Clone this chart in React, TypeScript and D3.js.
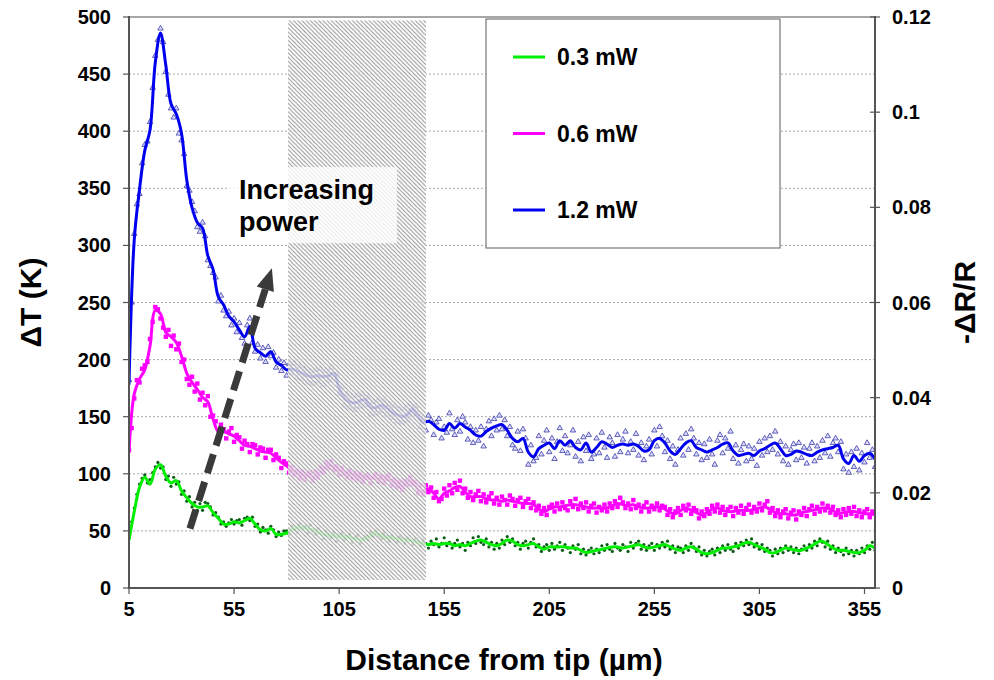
import React from 'react';
import * as d3 from 'd3';

const W = 994;
const H = 680;

const xTicks = [5, 55, 105, 155, 205, 255, 305, 355];
const yTicks = [0, 50, 100, 150, 200, 250, 300, 350, 400, 450, 500];
const yRightTicks = [0, 0.02, 0.04, 0.06, 0.08, 0.1, 0.12];
const yRightLabels = ['0', '0.02', '0.04', '0.06', '0.08', '0.1', '0.12'];
const seriesNames = ['0.3 mW', '0.6 mW', '1.2 mW'];

// smoothed curves: distance = 5 + 2.5 * i (µm)
const LINE_X0 = 5;
const LINE_STEP = 2.5;
const greenLine = [42,67,88,97,91,104,108,98,92,94,85,79,74,71,71,72,66,61,56,56,58,57,59,61,56,51,50,52,47,47,48,51,53,53,52,51,49,47,46,46,45,45,44,43,42,43,46,48,46,44,44,43,42,42,41,40,39,38,39,38,39,39,37,38,37,39,41,42,40,38,37,39,42,41,38,37,38,39,36,34,36,36,36,36,35,35,33,31,32,33,34,35,36,36,35,36,37,38,36,35,36,37,38,36,34,33,35,36,34,31,30,31,33,35,35,36,37,39,40,38,36,34,31,31,33,35,34,33,33,35,37,40,41,38,35,33,33,32,31,31,33,37,35];
const magentaLine = [118,170,183,191,212,243,240,224,220,215,203,188,180,174,167,163,148,137,137,135,133,129,125,124,122,120,119,118,114,110,107,103,101,99,98,97,100,104,108,106,103,102,100,99,97,96,96,96,96,95,94,91,89,93,94,86,85,87,83,78,83,85,88,89,84,80,80,80,78,77,77,76,77,76,75,74,74,73,69,67,69,71,71,72,73,73,72,71,70,70,70,70,72,74,73,72,73,71,70,70,71,71,69,66,65,68,70,68,66,64,66,69,70,68,67,67,68,68,68,69,70,71,69,66,65,65,64,64,66,67,68,69,70,70,68,65,66,67,67,66,65,65,64];
const blueLine = [178,305,349,383,401,460,486,458,424,415,398,357,333,320,315,291,279,255,248,238,233,226,220,229,210,206,203,207,198,195,191,192,190,188,186,185,186,185,186,188,175,166,163,162,164,165,158,158,160,158,154,152,150,152,157,150,145,146,143,139,138,144,140,144,141,138,134,133,137,140,142,143,138,131,128,131,119,115,122,125,127,122,129,125,129,123,121,127,119,123,128,126,123,125,126,125,126,124,120,121,129,131,127,120,117,122,127,129,123,121,119,121,123,126,127,120,116,117,118,116,120,122,125,127,122,116,117,120,119,117,116,119,121,122,123,125,113,109,116,111,116,118,113];

// measured points: distance = 5 + 1.25 * j (µm)
const PT_X0 = 5;
const PT_STEP = 1.25;
const greenPts = [
  44,58,70,82,91,96,99,92,95,101,106,110,105,106,95,98,89,97,91,93,82,85,76,80,71,75,68,74,68,75,
  74,71,64,66,62,56,58,54,57,60,56,59,60,55,61,62,59,62,54,56,49,53,51,48,54,51,45,49,46,50,
  50,47,54,51,49,56,52,54,48,55,50,47,52,49,43,50,47,44,49,41,46,48,42,45,47,40,44,46,39,43,
  45,42,49,45,50,46,43,48,45,41,46,43,40,45,43,39,44,42,38,43,41,37,42,39,35,41,38,43,36,39,
  44,37,40,35,39,42,36,39,33,40,37,44,39,45,40,38,43,36,40,34,39,35,42,38,45,40,43,37,40,34,
  39,41,35,40,43,36,38,32,36,38,33,39,34,37,40,33,38,35,31,37,34,38,30,34,29,33,35,30,34,31,
  37,33,38,34,32,39,35,33,38,36,32,40,35,39,41,34,38,33,37,39,33,38,35,40,36,41,34,37,31,36,
  35,31,37,33,39,36,32,36,29,33,28,32,34,29,35,31,37,33,38,34,32,39,35,40,37,42,38,43,36,39,
  34,38,32,35,33,28,34,30,35,31,37,33,36,31,35,30,34,37,33,38,35,41,37,43,40,36,41,34,37,31,
  35,32,29,35,30,33,28,33,30,35,31,37,34,40,33
];
const magentaPts = [
  121,140,166,182,180,192,195,198,218,233,246,244,236,228,220,226,212,221,209,214,198,200,183,178,185,172,179,165,171,160,
  168,150,151,146,133,143,139,131,137,140,128,134,132,122,129,126,119,126,125,117,123,122,114,121,121,112,117,114,105,111,
  109,101,106,99,103,96,102,95,100,101,94,102,97,106,101,110,105,111,103,107,99,105,100,97,103,96,101,95,100,93,
  98,99,92,97,100,93,98,92,97,99,90,95,88,93,86,94,90,97,91,93,83,90,82,90,84,88,79,84,76,78,
  87,81,90,83,92,86,94,83,87,79,84,77,82,85,76,82,75,80,83,74,79,73,80,77,73,81,78,72,77,79,
  71,76,78,70,75,68,72,65,70,64,71,73,67,74,69,75,70,68,76,71,78,69,74,70,75,67,72,74,66,71,
  68,73,67,74,70,76,71,79,75,70,74,69,77,70,73,67,72,75,67,72,69,74,68,72,71,64,69,62,67,70,
  64,72,68,73,65,70,68,61,67,63,69,65,72,67,73,66,71,64,69,71,63,70,66,72,65,70,73,66,71,67,
  74,68,73,76,66,70,63,68,62,67,69,61,66,68,60,67,64,70,63,69,72,65,71,67,74,68,72,66,71,64,
  68,62,69,64,70,65,71,63,68,62,67,69,62,67,66
];
const bluePts = [
  182,250,310,336,345,372,388,391,408,438,466,480,490,478,452,432,420,412,420,398,392,380,352,348,338,330,316,312,320,308,
  287,282,276,272,251,256,243,238,242,230,236,224,232,219,214,230,236,215,207,213,201,210,198,211,203,206,193,200,190,197,
  186,196,188,197,184,194,183,192,180,190,179,191,181,192,178,190,182,193,184,187,170,176,160,170,158,168,156,169,159,170,
  160,167,152,163,153,165,155,164,152,161,149,159,146,157,145,157,147,161,152,159,153,141,149,138,151,147,134,145,148,131,
  141,136,153,139,134,147,137,150,145,130,141,127,138,129,141,124,139,146,133,148,138,151,139,147,133,141,125,122,137,120,
  139,131,108,125,111,114,133,117,129,138,119,131,113,128,140,120,133,118,125,138,115,128,111,132,120,134,113,117,131,118,
  136,123,114,132,127,115,134,119,130,137,118,128,121,135,116,127,112,124,130,117,138,124,141,133,119,129,113,124,108,121,
  131,116,135,121,139,131,117,127,112,126,114,130,117,108,129,134,118,131,122,137,113,125,109,121,126,111,124,113,122,107,
  128,116,131,119,133,121,137,117,128,111,124,108,121,126,112,127,114,123,109,122,127,111,124,114,129,118,133,115,127,131,
  119,128,104,117,101,119,106,122,103,118,110,127,114,121,106
];

// shaded (excluded) distance range and annotation anchors, in data units
const hatchX = [80.7, 146.3];
const hatchY = [7, 497];
const noteBoxX = [52.1, 132.5];
const noteBoxY = [302, 368.6];
const arrowFrom = [34, 52];
const arrowTo = [73, 280];

const FONT = '"Liberation Sans", Arial, Helvetica, sans-serif';

export default function App() {
  const x = d3.scaleLinear().domain([5, 360]).range([129, 875]);
  const y = d3.scaleLinear().domain([0, 500]).range([588, 17]);
  const yR = d3.scaleLinear().domain([0, 0.12]).range([588, 17]);

  const lineGen = d3
    .line<number>()
    .x((_, i) => x(LINE_X0 + i * LINE_STEP))
    .y((d) => y(d))
    .curve(d3.curveCatmullRom.alpha(0.5));

  const ptX = (j: number) => x(PT_X0 + j * PT_STEP);
  const tri = d3.symbol().type(d3.symbolTriangle).size(13)() as string;

  const [x0, x1] = [x(5), x(360)];
  const [yb, yt] = [y(0), y(500)];

  const hx0 = x(hatchX[0]);
  const hx1 = x(hatchX[1]);
  const hy0 = y(hatchY[1]);
  const hy1 = y(hatchY[0]);

  const bx0 = x(noteBoxX[0]);
  const bx1 = x(noteBoxX[1]);
  const by0 = y(noteBoxY[1]);
  const by1 = y(noteBoxY[0]);

  const ax0 = x(arrowFrom[0]);
  const ay0 = y(arrowFrom[1]);
  const ax1 = x(arrowTo[0]);
  const ay1 = y(arrowTo[1]);
  const ang = Math.atan2(ay1 - ay0, ax1 - ax0);
  const headLen = 22;
  const headW = 9;
  const bxh = ax1 - headLen * Math.cos(ang);
  const byh = ay1 - headLen * Math.sin(ang);
  const px = -Math.sin(ang);
  const py = Math.cos(ang);
  const headPath = `M${ax1},${ay1} L${bxh + headW * px},${byh + headW * py} L${bxh - headW * px},${byh - headW * py} Z`;

  const legendColors = ['#00ee00', '#ff00ff', '#0000ee'];

  return (
    <svg
      width={W}
      height={H}
      style={{ position: 'absolute', left: 0, top: 0, background: '#fff' }}
      fontFamily={FONT}
    >
      <defs>
        <pattern id="hatch" patternUnits="userSpaceOnUse" width="4.2" height="4.2">
          <path d="M-1,-1 L5.2,5.2 M-1,3.2 L1,5.2 M3.2,-1 L5.2,1" stroke="#8e8e8e" strokeWidth="1" />
        </pattern>
        <clipPath id="plotClip">
          <rect x={x0} y={yt} width={x1 - x0} height={yb - yt} />
        </clipPath>
      </defs>
      <rect x={0} y={0} width={W} height={H} fill="#fff" />

      {/* gridlines */}
      {yTicks.slice(1, -1).map((t) => (
        <line key={'g' + t} x1={x0} x2={x1} y1={y(t)} y2={y(t)} stroke="#a8a8a8" strokeWidth={1} strokeDasharray="2,2" />
      ))}

      <g clipPath="url(#plotClip)">
        {/* markers */}
        {greenPts.map((v, j) => (
          <circle key={'gp' + j} cx={ptX(j)} cy={y(v)} r={1.6} fill="#0a5c14" />
        ))}
        {magentaPts.map((v, j) => (
          <rect key={'mp' + j} x={ptX(j) - 2.2} y={y(v) - 2.2} width={4.4} height={4.4} fill="#ff00ff" />
        ))}
        {bluePts.map((v, j) => (
          <path key={'bp' + j} d={tri} transform={`translate(${ptX(j)},${y(v)})`} fill="#dcdcff" stroke="#3c3ca8" strokeWidth={0.8} />
        ))}
        {/* smoothed lines */}
        <path d={lineGen(greenLine) as string} fill="none" stroke="#00ee00" strokeWidth={3} strokeLinejoin="round" />
        <path d={lineGen(magentaLine) as string} fill="none" stroke="#ff00ff" strokeWidth={3} strokeLinejoin="round" />
        <path d={lineGen(blueLine) as string} fill="none" stroke="#0000ee" strokeWidth={3} strokeLinejoin="round" />
      </g>

      {/* hatched region */}
      <rect x={hx0} y={hy0} width={hx1 - hx0} height={hy1 - hy0} fill="#fff" fillOpacity={0.8} />
      <rect x={hx0} y={hy0} width={hx1 - hx0} height={hy1 - hy0} fill="url(#hatch)" />

      {/* annotation box */}
      <rect x={bx0} y={by0} width={bx1 - bx0} height={by1 - by0} fill="#fff" fillOpacity={0.8} />
      <text x={bx0 + 11} y={by0 + 32} fontSize={27} fontWeight="bold" fill="#000">Increasing</text>
      <text x={bx0 + 11} y={by0 + 64} fontSize={27} fontWeight="bold" fill="#000">power</text>

      {/* arrow */}
      <line x1={ax0} y1={ay0} x2={bxh} y2={byh} stroke="#3a3a3a" strokeWidth={7} strokeDasharray="20,9" />
      <path d={headPath} fill="#3a3a3a" />

      {/* legend */}
      <rect x={486} y={19} width={294} height={229} fill="#fff" stroke="#777" strokeWidth={1.2} />
      {seriesNames.map((s, i) => (
        <g key={s} transform={`translate(0,${57 + i * 76.5})`}>
          <line x1={513} x2={545} y1={0} y2={0} stroke={legendColors[i]} strokeWidth={3} />
          <text x={557} y={8} fontSize={23} fontWeight="bold" fill="#000">{s}</text>
        </g>
      ))}

      {/* frame / axes */}
      <line x1={x0} x2={x1} y1={yt} y2={yt} stroke="#8a8a8a" strokeWidth={1.5} />
      <line x1={x0} x2={x0} y1={yt - 1} y2={yb + 1} stroke="#555" strokeWidth={2} />
      <line x1={x1} x2={x1} y1={yt - 1} y2={yb + 1} stroke="#555" strokeWidth={2} />
      <line x1={x0 - 1} x2={x1 + 1} y1={yb} y2={yb} stroke="#555" strokeWidth={2} />

      {yTicks.map((t) => (
        <g key={'yl' + t}>
          <line x1={x0 - 6} x2={x0} y1={y(t)} y2={y(t)} stroke="#555" strokeWidth={1.2} />
          <text x={111} y={y(t) + 7} textAnchor="end" fontSize={20} fontWeight="bold" fill="#000">{t}</text>
        </g>
      ))}
      {yRightTicks.map((t, i) => (
        <g key={'yr' + t}>
          <line x1={x1 - 5} x2={x1 + 5} y1={yR(t)} y2={yR(t)} stroke="#555" strokeWidth={1.2} />
          <text x={892} y={yR(t) + 7} textAnchor="start" fontSize={20} fontWeight="bold" fill="#000">{yRightLabels[i]}</text>
        </g>
      ))}
      {xTicks.map((t) => (
        <g key={'xt' + t}>
          <line x1={x(t)} x2={x(t)} y1={yb} y2={yb + 6} stroke="#555" strokeWidth={1.2} />
          <text x={x(t)} y={yb + 28} textAnchor="middle" fontSize={20} fontWeight="bold" fill="#000">{t}</text>
        </g>
      ))}

      {/* axis titles */}
      <text x={(x0 + x1) / 2 + 2} y={670} textAnchor="middle" fontSize={30} fontWeight="bold" fill="#000">Distance from tip (µm)</text>
      <text transform={`translate(41,${(yt + yb) / 2}) rotate(-90)`} textAnchor="middle" fontSize={30} fontWeight="bold" fill="#000">ΔT (K)</text>
      <text transform={`translate(975,${(yt + yb) / 2}) rotate(-90)`} textAnchor="middle" fontSize={30} fontWeight="bold" fill="#000">-ΔR/R</text>
    </svg>
  );
}
